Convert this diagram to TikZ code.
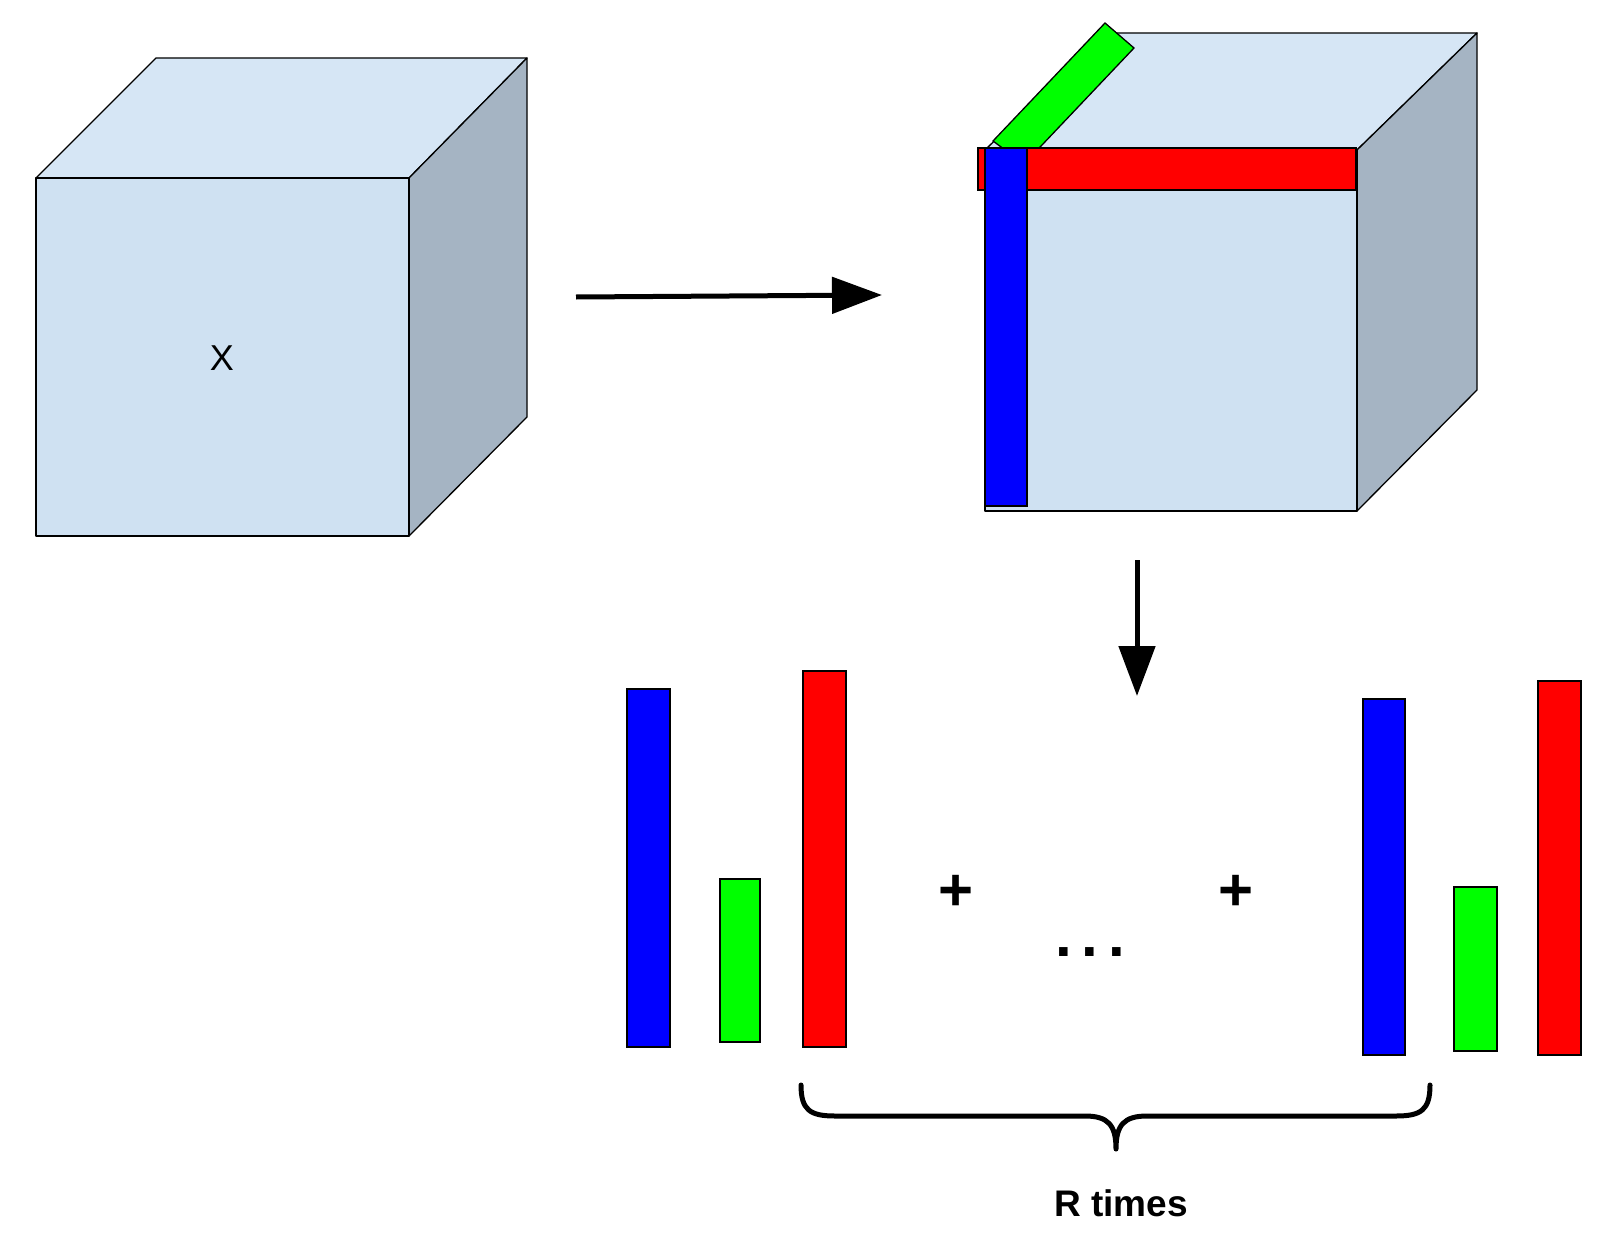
\documentclass[tikz,border=0pt]{standalone}
\usepackage{fontspec}
\setmainfont{Liberation Sans}
\usetikzlibrary{arrows.meta}
\begin{document}
\begin{tikzpicture}[x=1pt,y=-1pt,
  front/.style={fill=cfront,draw=black,line width=1.3pt,line join=round},
  top/.style={fill=ctop,draw=black,line width=1.3pt,line join=round},
  side/.style={fill=cside,draw=black,line width=1.3pt,line join=round},
  bar/.style={draw=black,line width=1.3pt},
  arr/.style={line width=5pt,-{Triangle[length=50pt,width=36pt]}},
  lbl/.style={font=\fontsize{60}{64}\selectfont\bfseries}]
\definecolor{cfront}{HTML}{CFE1F2}
\definecolor{ctop}{HTML}{D6E6F5}
\definecolor{cside}{HTML}{A5B4C3}
\useasboundingbox (0,0) rectangle (1603,1236);
% left cube
\draw[top] (36,178) -- (156,58) -- (527,58) -- (409,178) -- cycle;
\draw[side] (409,178) -- (527,58) -- (527,417) -- (409,536) -- cycle;
\draw[front] (36,178) rectangle (409,536);
\node[font=\fontsize{36}{40}\selectfont] (x) at (222,358) {X};
% right cube
\draw[top] (985,150) -- (1105,33) -- (1477,33) -- (1357,150) -- cycle;
\draw[side] (1357,150) -- (1477,33) -- (1477,390) -- (1357,511) -- cycle;
\draw[front] (985,150) rectangle (1357,511);
\draw[bar,fill=green] (993,141) -- (1105,23) -- (1134,48) -- (1024,164) -- cycle;
\draw[bar,fill=red] (978,148) rectangle (1356,190);
\draw[bar,fill=blue] (985,148) rectangle (1027,506);
% arrows
\coordinate (a1) at (576,297); \coordinate (a2) at (882,295);
\draw[arr] (a1) -- (a2);
\coordinate (b1) at (1137,560); \coordinate (b2) at (1137,696);
\draw[arr] (b1) -- (b2);
% bottom bars
\draw[bar,fill=blue] (627,689) rectangle (670,1047);
\draw[bar,fill=green] (720,879) rectangle (760,1042);
\draw[bar,fill=red] (803,671) rectangle (846,1047);
\draw[bar,fill=blue] (1363,699) rectangle (1405,1055);
\draw[bar,fill=green] (1454,887) rectangle (1497,1051);
\draw[bar,fill=red] (1538,681) rectangle (1581,1055);
\node[lbl] (p1) at (956,893) {+};
\node[lbl] (d) at (1090,952) {.\,.\,.};
\node[lbl] (p2) at (1236,893) {+};
% brace
\draw[line width=5pt,line cap=round,line join=round]
  (801,1085) .. controls (801,1110) and (810,1116) .. (835,1116) -- (1085,1116)
  .. controls (1108,1116) and (1116,1125) .. (1116,1149)
  .. controls (1116,1125) and (1124,1116) .. (1147,1116) -- (1396,1116)
  .. controls (1421,1116) and (1430,1110) .. (1430,1085);
\node[font=\fontsize{37}{42}\selectfont\bfseries] (r) at (1121,1203) {R times};
\end{tikzpicture}
\end{document}
